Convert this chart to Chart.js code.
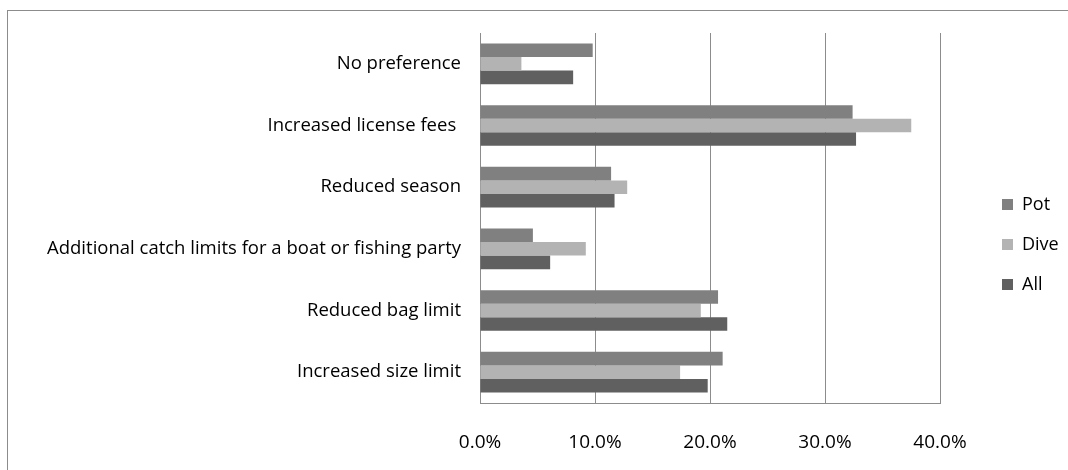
<!DOCTYPE html>
<html>
<head>
<meta charset="utf-8">
<script src="https://cdn.jsdelivr.net/npm/chart.js@4"></script>
<style>
  html, body { margin: 0; padding: 0; background: #fff; }
  #wrap { position: relative; width: 1068px; height: 470px; overflow: hidden; }
  #frame {
    position: absolute; left: 7px; top: 10px; width: 1100px; height: 500px;
    border-left: 1px solid #8c8c8c; border-top: 1px solid #8c8c8c;
    box-sizing: border-box;
  }
  canvas { position: absolute; left: 0; top: 0; }
</style>
</head>
<body>
<div id="wrap">
  <div id="frame"></div>
  <canvas id="chart" width="1068" height="470"></canvas>
</div>
<script>
// ── Data ──────────────────────────────────────────────────────────────────────
const categories = [
  "No preference",
  "Increased license fees ",
  "Reduced season",
  "Additional catch limits for a boat or fishing party",
  "Reduced bag limit",
  "Increased size limit",
];
const seriesNames = ["Pot", "Dive", "All"];
const potValues  = [9.8, 32.4, 11.4, 4.6, 20.7, 21.1];
const diveValues = [3.6, 37.5, 12.8, 9.2, 19.2, 17.4];
const allValues  = [8.1, 32.7, 11.7, 6.1, 21.5, 19.8];
const xTicks = [0, 10, 20, 30, 40];

const COLORS = ["#808080", "#b3b3b3", "#606060"];
const FONT = "'Open Sans', 'Liberation Sans', sans-serif";

// Legend drawn at the right, Excel-style
const sideLegend = {
  id: "sideLegend",
  afterDraw(chart) {
    const { ctx } = chart;
    ctx.save();
    ctx.font = "18px " + FONT;
    ctx.textBaseline = "middle";
    chart.data.datasets.forEach((ds, i) => {
      const y = 204 + i * 40;
      ctx.fillStyle = ds.backgroundColor;
      ctx.fillRect(1002, y - 5, 11, 11);
      ctx.fillStyle = "#000";
      ctx.fillText(ds.label, 1022, y + 1);
    });
    ctx.restore();
  },
};

new Chart(document.getElementById("chart"), {
  type: "bar",
  data: {
    labels: categories,
    datasets: [
      { label: seriesNames[0], data: potValues,  backgroundColor: COLORS[0] },
      { label: seriesNames[1], data: diveValues, backgroundColor: COLORS[1] },
      { label: seriesNames[2], data: allValues,  backgroundColor: COLORS[2] },
    ],
  },
  options: {
    indexAxis: "y",
    responsive: false,
    animation: false,
    datasets: {
      bar: { categoryPercentage: 0.66, barPercentage: 1.0 },
    },
    layout: { padding: { left: 8, top: 33, right: 128, bottom: 0 } },
    plugins: {
      legend: { display: false },
      tooltip: { enabled: false },
    },
    scales: {
      x: {
        min: 0,
        max: 40,
        afterBuildTicks: (axis) => { axis.ticks = xTicks.map((v) => ({ value: v })); },
        afterFit: (axis) => { axis.height = 67; },
        grid: { color: "#8c8c8c", lineWidth: 1, drawTicks: false },
        border: { color: "#8c8c8c", width: 1 },
        ticks: {
          padding: 28,
          color: "#000",
          font: { family: FONT, size: 19 },
          callback: (v) => v.toFixed(1) + "%",
        },
      },
      y: {
        afterFit: (axis) => { axis.width = 472; },
        grid: { display: false, drawTicks: false },
        border: { color: "#8c8c8c", width: 1 },
        ticks: {
          padding: 19,
          color: "#000",
          font: { family: FONT, size: 18.5 },
        },
      },
    },
  },
  plugins: [sideLegend],
});
</script>
</body>
</html>
